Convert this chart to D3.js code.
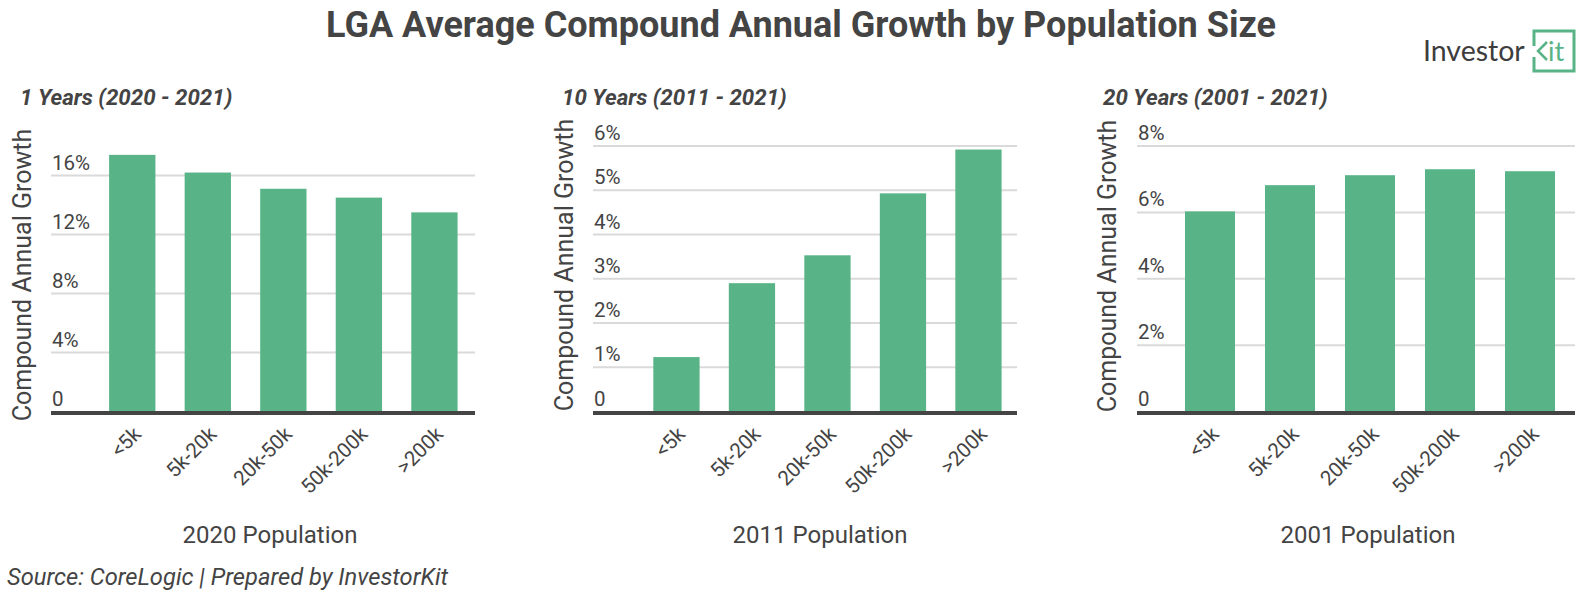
<!DOCTYPE html>
<html>
<head>
<meta charset="utf-8">
<script src="https://cdn.jsdelivr.net/npm/d3@7"></script>
<style>
  body { margin: 0; background: #fff; }
  svg text { font-family: Roboto, sans-serif; fill: #444; }
</style>
</head>
<body>
<div id="chart"></div>
<script>
// population bands (same for every panel)
const categories = ['<5k', '5k-20k', '20k-50k', '50k-200k', '>200k'];

// compound annual growth, %
const growth1yr = [17.4, 16.2, 15.1, 14.5, 13.5];
const growth10yr = [1.23, 2.9, 3.53, 4.93, 5.92];
const growth20yr = [6.03, 6.82, 7.12, 7.3, 7.24];

const ticks1yr = [0, 4, 8, 12, 16];
const ticks10yr = [0, 1, 2, 3, 4, 5, 6];
const ticks20yr = [0, 2, 4, 6, 8];

const subtitles = ['1 Years (2020 - 2021)', '10 Years (2011 - 2021)', '20 Years (2001 - 2021)'];
const xTitles = ['2020 Population', '2011 Population', '2001 Population'];

const W = 1589, H = 595;
const plotTop = 146, base = 411.5;
const green = '#58b486';

const panels = [
  { values: growth1yr, ticks: ticks1yr, max: 18, grid: [51, 475], band: [94, 472.7], pi: 0.387, po: 0.2, subX: 20, yTitleX: 31, yTitleY: 275, xTitleX: 270 },
  { values: growth10yr, ticks: ticks10yr, max: 6, grid: [593, 1017], band: [638.2, 1016.7], pi: 0.387, po: 0.2, subX: 562, yTitleX: 573, yTitleY: 265, xTitleX: 820 },
  { values: growth20yr, ticks: ticks20yr, max: 8, grid: [1137, 1575], band: [1165, 1575], pi: 0.375, po: 0.25, subX: 1103, yTitleX: 1116, yTitleY: 266, xTitleX: 1368 }
];

const svg = d3.select('#chart').append('svg')
  .attr('width', W)
  .attr('height', H);

svg.append('text')
  .attr('x', 801)
  .attr('y', 37)
  .attr('text-anchor', 'middle')
  .style('font-size', '36px')
  .style('font-weight', 700)
  .text('LGA Average Compound Annual Growth by Population Size');

panels.forEach((p, i) => {
  const g = svg.append('g');
  const y = d3.scaleLinear().domain([0, p.max]).range([base, plotTop]);
  const x = d3.scaleBand().domain(categories).range(p.band)
    .paddingInner(p.pi).paddingOuter(p.po);

  g.append('text')
    .attr('x', p.subX)
    .attr('y', 105)
    .style('font-size', '22.3px')
    .style('font-weight', 700)
    .style('font-style', 'italic')
    .text(subtitles[i]);

  // gridlines + tick labels
  g.selectAll('.grid')
    .data(p.ticks.filter(d => d > 0))
    .enter()
    .append('line')
    .attr('class', 'grid')
    .attr('x1', p.grid[0])
    .attr('x2', p.grid[1])
    .attr('y1', d => y(d))
    .attr('y2', d => y(d))
    .style('stroke', '#dadada')
    .style('stroke-width', 2);

  g.selectAll('.ylab')
    .data(p.ticks)
    .enter()
    .append('text')
    .attr('class', 'ylab')
    .attr('x', p.grid[0] + 1)
    .attr('y', d => y(d) - 6)
    .style('font-size', '20.5px')
    .text(d => d === 0 ? '0' : d + '%');

  g.selectAll('.bar')
    .data(p.values)
    .enter()
    .append('rect')
    .attr('class', 'bar')
    .attr('x', (d, j) => x(categories[j]))
    .attr('width', x.bandwidth())
    .attr('y', d => y(d))
    .attr('height', d => y(0) - y(d))
    .style('fill', green);

  g.append('line')
    .attr('x1', p.grid[0])
    .attr('x2', p.grid[1])
    .attr('y1', y(0) + 1.5)
    .attr('y2', y(0) + 1.5)
    .style('stroke', '#444')
    .style('stroke-width', 4);

  g.selectAll('.xlab')
    .data(categories)
    .enter()
    .append('text')
    .attr('class', 'xlab')
    .attr('text-anchor', 'end')
    .attr('transform', d => `translate(${x(d) + x.bandwidth() / 2 + 10},${base + 24}) rotate(-45)`)
    .style('font-size', '20.5px')
    .text(d => d);

  g.append('text')
    .attr('transform', `translate(${p.yTitleX},${p.yTitleY}) rotate(-90)`)
    .attr('text-anchor', 'middle')
    .style('font-size', '25px')
    .text('Compound Annual Growth');

  g.append('text')
    .attr('x', p.xTitleX)
    .attr('y', 543)
    .attr('text-anchor', 'middle')
    .style('font-size', '24px')
    .text(xTitles[i]);
});

svg.append('text')
  .attr('x', 7)
  .attr('y', 585)
  .style('font-size', '23.7px')
  .style('font-style', 'italic')
  .text('Source: CoreLogic | Prepared by InvestorKit');

// logo
const logo = svg.append('g');
logo.append('text')
  .attr('x', 1423)
  .attr('y', 61)
  .style('font-family', 'Lato, sans-serif')
  .style('font-size', '28.5px')
  .style('fill', '#3d3d3d')
  .text('Investor');
logo.append('path')
  .attr('d', 'M1534,46 V31 H1574 V71 H1534 V57')
  .style('fill', 'none')
  .style('stroke', green)
  .style('stroke-width', 3);
logo.append('path')
  .attr('d', 'M1547,42 L1538,51 L1547,60')
  .style('fill', 'none')
  .style('stroke', green)
  .style('stroke-width', 2.5);
logo.append('text')
  .attr('x', 1548)
  .attr('y', 61)
  .style('font-family', 'Lato, sans-serif')
  .style('font-size', '27px')
  .style('fill', green)
  .text('it');
</script>
</body>
</html>
